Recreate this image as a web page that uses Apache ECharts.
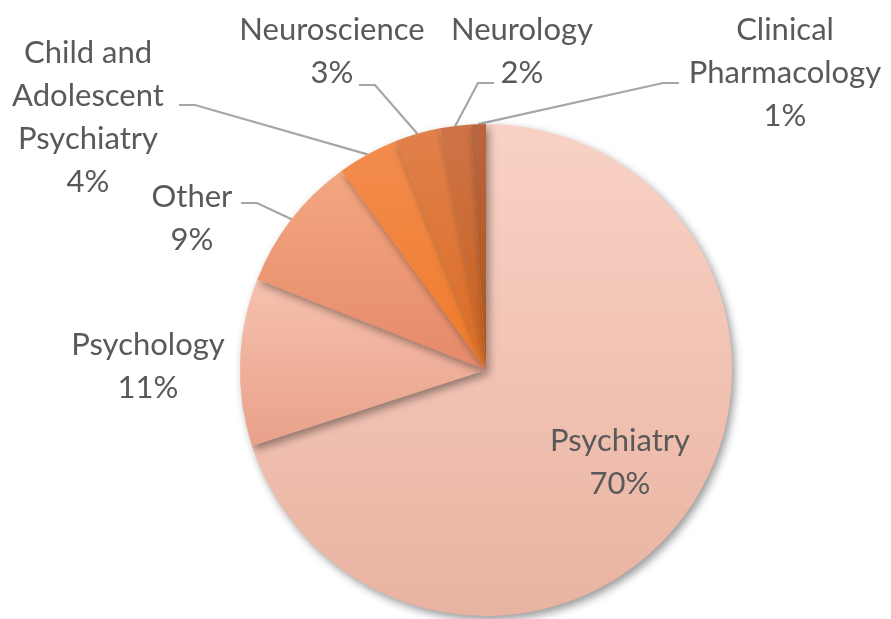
<!DOCTYPE html>
<html>
<head>
<meta charset="utf-8">
<script src="https://cdn.jsdelivr.net/npm/echarts@6/dist/echarts.min.js"></script>
<style>
  body { margin: 0; background: #fff; }
  #main { width: 891px; height: 619px; }
</style>
</head>
<body>
<div id="main"></div>
<script>
// 数据
const categories = ['Psychiatry', 'Psychology', 'Other', 'Child and\nAdolescent\nPsychiatry', 'Neuroscience', 'Neurology', 'Clinical\nPharmacology']
const shares = [70, 11, 9, 4, 3, 2, 1]

// 每块的渐变色（上 -> 下）
const topColors = ['#f9d2c5', '#f6c2ae', '#f4a780', '#f28c4e', '#e0804c', '#cf7448', '#b96540']
const bottomColors = ['#e9b3a1', '#e9a089', '#e5896a', '#ef7b2a', '#dc6c22', '#c8601c', '#ad5516']

// 标签位置：文字中心，引导线拐点（null 表示没有引导线）
const labelPos = [[620, 462], [148, 366], [192, 218], [88, 117], [332, 51], [522, 51], [785, 73]]
const elbows = [null, null, [257, 203], [195, 105], [375, 85], [478, 83], [663, 83]]
const tailLen = 16

const myChart = echarts.init(document.getElementById('main'))

const data = categories.map((name, i) => ({
  name: name,
  value: shares[i],
  itemStyle: {
    color: {
      type: 'linear', x: 0, y: 0, x2: 0, y2: 1,
      colorStops: [
        { offset: 0, color: topColors[i] },
        { offset: 1, color: bottomColors[i] }
      ]
    }
  },
  label: { position: i === 0 ? 'inside' : 'outside' },
  labelLine: {
    show: elbows[i] !== null,
    lineStyle: { color: '#a6a6a6', width: 2.2 }
  }
}))

const option = {
  animation: false,
  series: [
    {
      type: 'pie',
      center: [486, 370],
      radius: 246,
      startAngle: 90,
      clockwise: true,
      avoidLabelOverlap: false,
      itemStyle: {
        borderWidth: 0,
        shadowBlur: 9,
        shadowOffsetX: 3,
        shadowOffsetY: 4,
        shadowColor: 'rgba(0,0,0,0.4)'
      },
      label: {
        show: true,
        formatter: p => p.name + '\n' + Math.round(p.percent) + '%',
        fontFamily: 'Lato',
        fontSize: 31,
        lineHeight: 43,
        color: '#595959'
      },
      labelLine: {
        show: true,
        lineStyle: { color: '#a6a6a6', width: 2.2 }
      },
      labelLayout: function (params) {
        const i = params.dataIndex
        const pos = labelPos[i]
        const res = { x: pos[0], y: pos[1], align: 'center', verticalAlign: 'middle' }
        const elbow = elbows[i]
        if (elbow && params.labelLinePoints) {
          const dir = pos[0] < elbow[0] ? -1 : 1
          res.labelLinePoints = [
            params.labelLinePoints[0],
            elbow,
            [elbow[0] + dir * tailLen, elbow[1]]
          ]
        }
        return res
      },
      data: data
    }
  ]
}

myChart.setOption(option)
</script>
</body>
</html>
